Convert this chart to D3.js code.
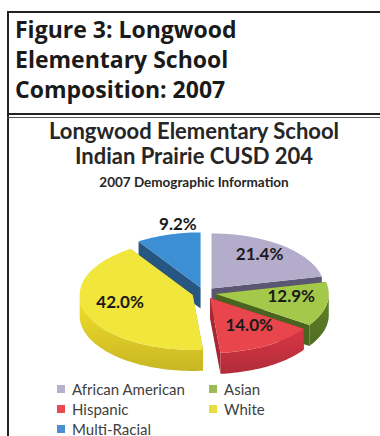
<!DOCTYPE html>
<html>
<head>
<meta charset="utf-8">
<script src="https://cdn.jsdelivr.net/npm/d3@7"></script>
<style>
  html, body { margin: 0; padding: 0; background: #fff; }
</style>
</head>
<body>
<div id="chart"></div>
<script>
// data
var categories = ["African American", "Asian", "Hispanic", "White", "Multi-Racial"];
var shares = [21.4, 12.9, 14.0, 42.0, 9.2];
var labels = ["21.4%", "12.9%", "14.0%", "42.0%", "9.2%"];
var topColors = ["#b4accb", "#a4c94a", "#e8464c", "#f0e63c", "#3b8fd2"];
var sideColors = ["#625c7a", "#4f6b22", "#b02c38", "#c7b623", "#2a5c8c"];
var legendColors = ["#b8b0cc", "#9bbb59", "#e84a4f", "#e6de3e", "#4a90d0"];

var width = 380, height = 436;
var svg = d3.select("#chart").append("svg")
    .attr("width", width).attr("height", height);

// header box
svg.append("line").attr("x1", 7).attr("x2", 380).attr("y1", 12).attr("y2", 12)
    .attr("stroke", "#222").attr("stroke-width", 2);
svg.append("line").attr("x1", 8).attr("x2", 8).attr("y1", 11).attr("y2", 436)
    .attr("stroke", "#222").attr("stroke-width", 2);
svg.append("line").attr("x1", 7).attr("x2", 380).attr("y1", 114).attr("y2", 114)
    .attr("stroke", "#222").attr("stroke-width", 2);
svg.append("line").attr("x1", 7).attr("x2", 380).attr("y1", 117.5).attr("y2", 117.5)
    .attr("stroke", "#555").attr("stroke-width", 1);

var head = ["Figure 3: Longwood", "Elementary School", "Composition: 2007"];
svg.selectAll("text.head").data(head).enter().append("text")
    .attr("class", "head")
    .attr("x", 15).attr("y", (d, i) => 38 + i * 30)
    .attr("font-family", "'Open Sans', sans-serif")
    .attr("font-weight", "bold").attr("font-size", 23)
    .attr("fill", "#1a1a1a")
    .text(d => d);

// chart titles
var cxTitle = 194;
svg.append("text").attr("x", cxTitle).attr("y", 139).attr("text-anchor", "middle")
    .attr("font-family", "Lato, sans-serif").attr("font-weight", "bold").attr("font-size", 22)
    .attr("fill", "#262626").text("Longwood Elementary School");
svg.append("text").attr("x", cxTitle).attr("y", 164).attr("text-anchor", "middle")
    .attr("font-family", "Lato, sans-serif").attr("font-weight", "bold").attr("font-size", 22)
    .attr("fill", "#262626").text("Indian Prairie CUSD 204");
svg.append("text").attr("x", cxTitle).attr("y", 187).attr("text-anchor", "middle")
    .attr("font-family", "Lato, sans-serif").attr("font-weight", "bold").attr("font-size", 13.5)
    .attr("fill", "#262626").text("2007 Demographic Information");

// 3D pie
var cx = 204, cy = 293, rx = 113, ry = 55, depth = 21, explode = 12;
var pie = d3.pie().sort(null).value(d => d)
    .startAngle(0).endAngle(2 * Math.PI);
var arcsData = pie(shares);

function pt(d, a, r, dz) {
  var m = (d.startAngle + d.endAngle) / 2;
  var ox = explode * Math.sin(m), oy = -explode * Math.cos(m) * (ry / rx);
  return [cx + ox + rx * r * Math.sin(a), cy + oy - ry * r * Math.cos(a) + (dz || 0)];
}
function arcPts(d, a0, a1, dz) {
  var n = Math.max(2, Math.ceil((a1 - a0) / 0.03));
  return d3.range(n + 1).map(i => pt(d, a0 + (a1 - a0) * i / n, 1, dz));
}
var line = d3.line();

var g = svg.append("g");

// radial walls
var walls = [];
arcsData.forEach((d, i) => {
  [d.startAngle, d.endAngle].forEach(a => {
    var c0 = pt(d, a, 0), e0 = pt(d, a, 1);
    walls.push({i: i, y: (c0[1] + e0[1]) / 2,
      pts: [c0, e0, pt(d, a, 1, depth), pt(d, a, 0, depth)]});
  });
});
walls.sort((a, b) => a.y - b.y);
g.selectAll("path.rwall").data(walls).enter().append("path")
    .attr("class", "rwall")
    .attr("d", w => line(w.pts) + "Z")
    .attr("fill", w => d3.color(sideColors[w.i]).darker(0.2));

// outer walls (front half only)
arcsData.forEach((d, i) => {
  var a0 = Math.max(d.startAngle, Math.PI / 2), a1 = Math.min(d.endAngle, 3 * Math.PI / 2);
  if (a1 <= a0) return;
  var top = arcPts(d, a0, a1, 0), bot = arcPts(d, a0, a1, depth).reverse();
  var gid = "gw" + i;
  var grad = svg.append("defs").append("linearGradient").attr("id", gid)
      .attr("x1", 0).attr("x2", 0).attr("y1", 0).attr("y2", 1);
  grad.append("stop").attr("offset", "0%").attr("stop-color", d3.color(sideColors[i]).brighter(0.6));
  grad.append("stop").attr("offset", "100%").attr("stop-color", sideColors[i]);
  g.append("path").attr("d", line(top.concat(bot)) + "Z").attr("fill", "url(#" + gid + ")");
});

// top faces
g.selectAll("path.top").data(arcsData).enter().append("path")
    .attr("class", "top")
    .attr("d", (d) => line([pt(d, 0, 0)].concat(arcPts(d, d.startAngle, d.endAngle, 0))) + "Z")
    .attr("fill", (d, i) => topColors[i]);

// labels
g.selectAll("text.lab").data(arcsData).enter().append("text")
    .attr("class", "lab")
    .attr("text-anchor", "middle").attr("dominant-baseline", "central")
    .attr("font-family", "Lato, sans-serif").attr("font-weight", "bold").attr("font-size", 17)
    .attr("fill", "#1a1a1a")
    .each(function (d, i) {
      var m = (d.startAngle + d.endAngle) / 2, p;
      if (d.value < 10) {
        var q = pt(d, m, 0.7), t = pt(d, 0, 1);
        p = [q[0], t[1] - 9];
      } else {
        p = pt(d, m, 0.68);
        p[1] -= 6;
      }
      d3.select(this).attr("x", p[0]).attr("y", p[1]).text(labels[i]);
    });

// legend
var legX = [57, 209], legY0 = 389, legDy = 20;
var leg = svg.selectAll("g.leg").data(categories).enter().append("g")
    .attr("class", "leg")
    .attr("transform", (d, i) => "translate(" + legX[i % 2] + "," + (legY0 + Math.floor(i / 2) * legDy) + ")");
leg.append("rect").attr("x", 0).attr("y", -4).attr("width", 8).attr("height", 8)
    .attr("fill", (d, i) => legendColors[i]);
leg.append("text").attr("x", 15).attr("y", 0).attr("dominant-baseline", "central")
    .attr("font-family", "Lato, sans-serif").attr("font-size", 15).attr("fill", "#404040")
    .text(d => d);
</script>
</body>
</html>
